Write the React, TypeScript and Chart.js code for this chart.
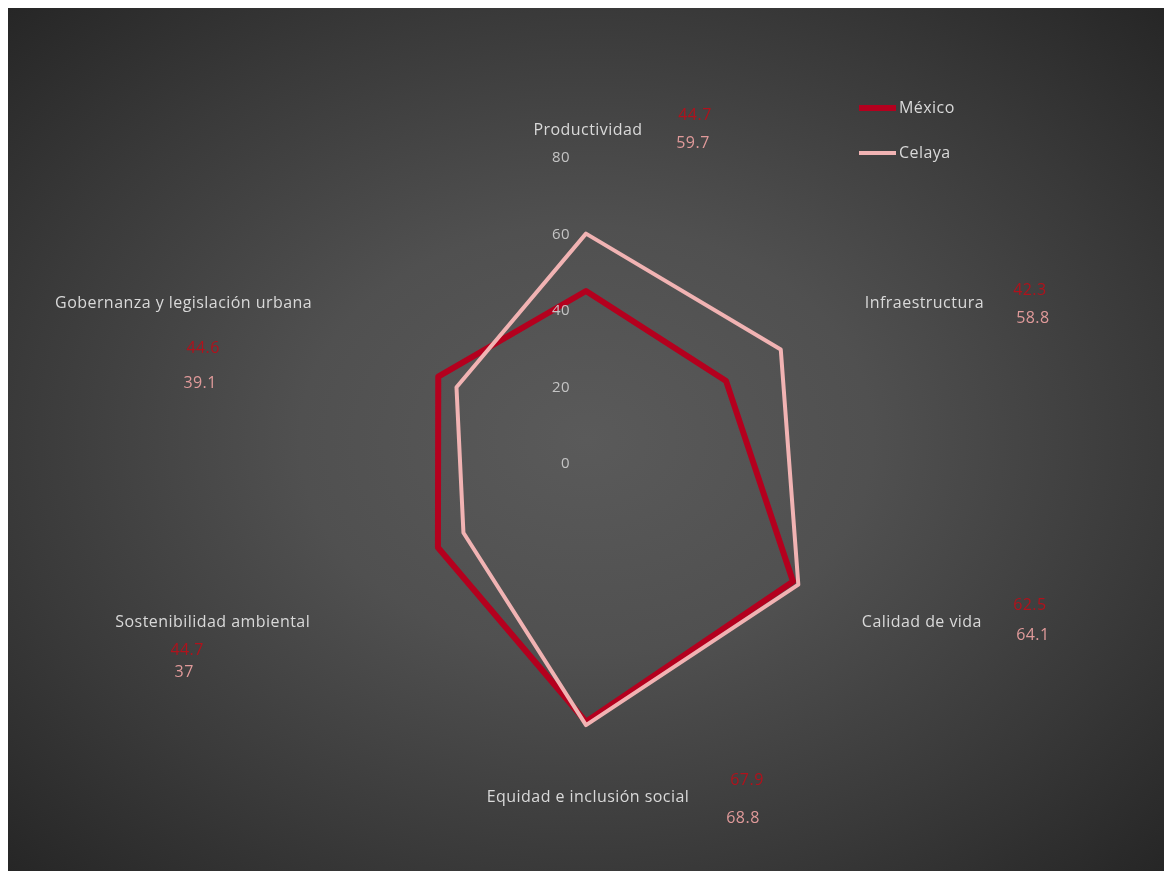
import React, { useEffect, useRef } from "react";
import { Chart, registerables } from "chart.js";

Chart.register(...registerables);

// ---- data ----
const categories = [
  "Productividad",
  "Infraestructura",
  "Calidad de vida",
  "Equidad e inclusión social",
  "Sostenibilidad ambiental",
  "Gobernanza y legislación urbana",
];
const seriesNames = ["México", "Celaya"];
const mexicoValues = [44.7, 42.3, 62.5, 67.9, 44.7, 44.6];
const celayaValues = [59.7, 58.8, 64.1, 68.8, 37, 39.1];
const tickValues = [0, 20, 40, 60, 80];

// ---- styles / layout ----
const FONT = '"Open Sans", sans-serif';
const COLORS = {
  mexico: "#b4001e",
  celaya: "#f1b3b3",
  mexicoLabel: "#b0121c",
  celayaLabel: "#e09a9a",
  text: "#d9d9d9",
  tick: "#c4c4c4",
};
const TEXT_SPACING = "0.45px";
const LABEL_GAP = 16;
const catLabelLayout: { dx: number; dy: number; align: CanvasTextAlign }[] = [
  { dx: 2, dy: -10, align: "center" },
  { dx: 0, dy: 2, align: "left" },
  { dx: -3, dy: -1, align: "left" },
  { dx: 2, dy: 13, align: "center" },
  { dx: 3, dy: -1, align: "right" },
  { dx: 5, dy: 2, align: "right" },
];
// [redDx, redDy, pinkDx, pinkDy] relative to category anchor
const valueLabelLayout = [
  [109, -25, 107, 3],
  [165, -11, 168, 17],
  [165, -18, 168, 12],
  [161, -4, 157, 34],
  [-120, 27, -123, 49],
  [-104, 47, -107, 82],
];
const LEGEND = { x: 851, y: 100, gap: 45, lineLen: 37 };

const labelsPlugin = {
  id: "excelLabels",
  afterDraw(chart: any) {
    const ctx = chart.ctx as CanvasRenderingContext2D;
    const scale = chart.scales.r;
    const cx = scale.xCenter;
    const cy = scale.yCenter;
    ctx.save();
    ctx.textBaseline = "middle";
    (ctx as any).letterSpacing = TEXT_SPACING;

    // tick labels along the vertical axis
    ctx.font = `15px ${FONT}`;
    ctx.fillStyle = COLORS.tick;
    ctx.textAlign = "right";
    tickValues.forEach((v) => {
      const d = scale.getDistanceFromCenterForValue(v);
      ctx.fillText(String(v), cx - 16, cy - d + 2);
    });

    // category labels + value labels
    categories.forEach((cat, i) => {
      const p = scale.getPointPosition(i, scale.drawingArea + LABEL_GAP);
      const lay = catLabelLayout[i];
      ctx.font = `16px ${FONT}`;
      ctx.fillStyle = COLORS.text;
      ctx.textAlign = lay.align;
      ctx.fillText(cat, p.x + lay.dx, p.y + lay.dy);

      const v = valueLabelLayout[i];
      ctx.textAlign = "center";
      ctx.font = `16px ${FONT}`;
      ctx.fillStyle = COLORS.mexicoLabel;
      ctx.fillText(String(mexicoValues[i]), p.x + v[0], p.y + v[1]);
      ctx.fillStyle = COLORS.celayaLabel;
      ctx.fillText(String(celayaValues[i]), p.x + v[2], p.y + v[3]);
    });

    // legend
    const ds = chart.data.datasets;
    ds.forEach((d: any, i: number) => {
      const y = LEGEND.y + i * LEGEND.gap;
      ctx.strokeStyle = d.borderColor;
      ctx.lineWidth = d.borderWidth;
      ctx.lineCap = "butt";
      ctx.beginPath();
      ctx.moveTo(LEGEND.x, y);
      ctx.lineTo(LEGEND.x + LEGEND.lineLen, y);
      ctx.stroke();
      ctx.fillStyle = COLORS.text;
      ctx.textAlign = "left";
      ctx.font = `16px ${FONT}`;
      ctx.fillText(d.label, LEGEND.x + LEGEND.lineLen + 3, y);
    });
    ctx.restore();
  },
};

export default function App() {
  const ref = useRef<HTMLCanvasElement>(null);
  useEffect(() => {
    if (!ref.current) return;
    const chart = new Chart(ref.current, {
      type: "radar",
      data: {
        labels: categories,
        datasets: [
          {
            label: seriesNames[0],
            data: mexicoValues,
            borderColor: COLORS.mexico,
            backgroundColor: "transparent",
            borderWidth: 6,
            pointRadius: 0,
            fill: false,
            borderJoinStyle: "round",
            order: 2,
          },
          {
            label: seriesNames[1],
            data: celayaValues,
            borderColor: COLORS.celaya,
            backgroundColor: "transparent",
            borderWidth: 4,
            pointRadius: 0,
            fill: false,
            borderJoinStyle: "round",
            order: 1,
          },
        ],
      },
      options: {
        responsive: false,
        animation: false,
        devicePixelRatio: 1,
        layout: { padding: { top: 148, bottom: 103, left: 0, right: 0 } },
        plugins: {
          legend: { display: false },
          title: { display: false },
          tooltip: { enabled: false },
        },
        scales: {
          r: {
            min: 0,
            max: 80,
            ticks: { display: false, stepSize: 20 },
            grid: { display: false },
            angleLines: { display: false },
            pointLabels: { display: false },
          },
        },
      },
      plugins: [labelsPlugin],
    });
    return () => chart.destroy();
  }, []);

  return (
    <div
      style={{
        width: 1157,
        height: 863,
        background:
          "radial-gradient(ellipse at 50% 50%, #5a5a5a 0%, #505050 35%, #3a3a3a 70%, #262626 100%)",
      }}
    >
      <canvas ref={ref} width={1157} height={863} style={{ display: "block" }} />
    </div>
  );
}
